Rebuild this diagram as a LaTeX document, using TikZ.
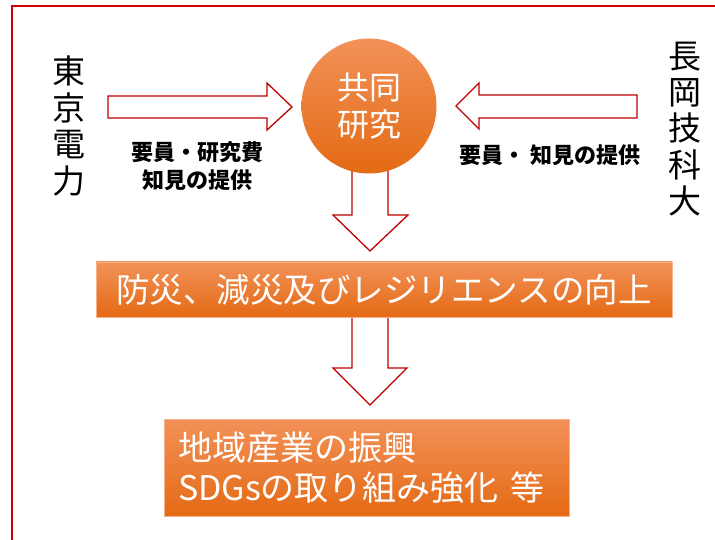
\documentclass[tikz,border=0pt]{standalone}
\usepackage{fontspec}
\setmainfont{Noto Sans CJK JP}
\definecolor{framered}{HTML}{D00000}
\definecolor{arrowred}{HTML}{C00000}
\definecolor{orangetop}{HTML}{F29158}
\definecolor{orangemid}{HTML}{F47C2C}
\definecolor{orangebot}{HTML}{E46A14}
\tikzset{
  orangebox/.style={draw=orangetop!70!white, line width=0.6pt, top color=orangetop, middle color=orangemid, bottom color=orangebot, text=white, inner sep=0pt},
  blockarrow/.style={draw=arrowred, fill=white, line width=1.3pt, line join=miter},
  vtext/.style={align=center, font=\fontsize{33}{36.4}\selectfont},
  label/.style={align=center, font=\fontsize{22}{28}\selectfont\bfseries}
}
\begin{document}
\begin{tikzpicture}[x=1pt,y=-1pt]
    \useasboundingbox (0,0) rectangle (715,540);
    \draw[framered, line width=2pt] (12,540)--(12,6)--(715,6);
    % block arrows
    \draw[blockarrow] (108,96)--(267,96)--(267,83)--(292,107)--(267,130)--(267,118)--(108,118)--cycle;
    \draw[blockarrow] (637,95)--(479,95)--(479,83)--(456,106)--(479,129)--(479,118)--(637,118)--cycle;
    \draw[blockarrow] (352,150)--(352,215)--(333,215)--(370,251)--(408,215)--(388,215)--(388,150)--cycle;
    \draw[blockarrow] (352,310)--(352,368)--(333,368)--(370,405)--(407,368)--(388,368)--(388,310)--cycle;
    \node[orangebox, circle, minimum size=135pt, draw=none, align=center,
          font=\fontsize{32}{37}\selectfont] (kenkyu) at (369,106) {共同\\研究};
    \node[orangebox, minimum width=576pt, minimum height=55pt,
          font=\fontsize{33.5}{36}\selectfont] (bosai) at (384,289.5) {防災、減災及びレジリエンスの向上};
    \node[orangebox, minimum width=405pt, minimum height=97pt, text width=377pt, align=left,
          font=\fontsize{34}{40}\selectfont] (shinko) at (366.5,467.5) {地域産業の振興\\SDGsの取り組み強化 等};
    \node[vtext] (tepco) at (69,126) {東\\京\\電\\力};
    \node[vtext] (gidai) at (685,129) {長\\岡\\技\\科\\大};
    \node[label] (tepcolabel) at (197,166) {要員・研究費\\知見の提供};
    \node[label] (gidailabel) at (550,155) {要員・ 知見の提供};
\end{tikzpicture}
\end{document}
